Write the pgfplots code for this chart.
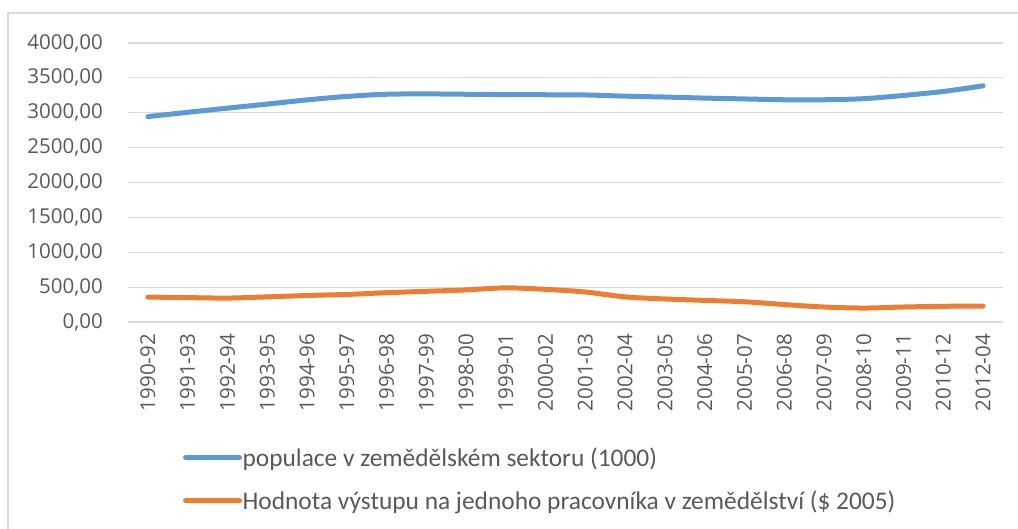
\documentclass[border=0pt]{standalone}
\usepackage{pgfplots}
\pgfplotsset{compat=1.18}
\usepackage{fontspec}
\setmainfont{Carlito}
\newfontfamily\tickfont{Open Sans}
\definecolor{blueS}{HTML}{5B9BD5}
\definecolor{orangeS}{HTML}{ED7D31}
\definecolor{gridc}{HTML}{D9D9D9}
\definecolor{textgray}{HTML}{595959}
\begin{document}
\begin{tikzpicture}[x=1pt,y=1pt]
\useasboundingbox (0,0) rectangle (1018,529);
\draw[gridc, line width=1.2pt] (8,0) -- (8,516) -- (1018,516);
\begin{axis}[
  at={(128pt,207pt)}, anchor=south west,
  scale only axis, width=875pt, height=279pt,
  xmin=-0.5, xmax=21.5, ymin=0, ymax=4000,
  ytick={0,500,...,4000},
  xtick={0,...,21},
  xticklabels={1990-92,1991-93,1992-94,1993-95,1994-96,1995-97,1996-98,1997-99,1998-00,1999-01,2000-02,2001-03,2002-04,2003-05,2004-06,2005-07,2006-08,2007-09,2008-10,2009-11,2010-12,2012-04},
  yticklabel={\pgfmathprintnumber[fixed,fixed zerofill,precision=2,use comma,1000 sep={}]{\tick}},
  /pgf/number format/assume math mode=true,
  ymajorgrids, grid style={gridc, line width=1.2pt},
  axis line style={draw=none},
  axis x line*=bottom, axis y line*=left,
  x axis line style={draw=gridc, line width=1.2pt},
  major tick length=0pt,
  tick label style={font=\tickfont\fontsize{20.5}{24}\selectfont, text=textgray, inner sep=0pt},
  xticklabel style={rotate=90, anchor=east},
  yticklabel style={anchor=east},
  xticklabel shift=12pt, yticklabel shift=25pt,
  legend style={at={(0.0593,-0.44)}, anchor=north west, draw=none, fill=none,
    font=\fontsize{25.4}{29}\selectfont, text=textgray, row sep=22pt,
    nodes={inner sep=0.5pt}},
  legend cell align=left,
  legend image code/.code={\draw[line width=5pt,line cap=round] (0pt,0pt) -- (54pt,0pt);},
]
\addplot[blueS, line width=5pt, smooth, line cap=round] coordinates {
(0,2945) (1,3006) (2,3066) (3,3124) (4,3184) (5,3234) (6,3265) (7,3270) (8,3265)
(9,3260) (10,3258) (11,3255) (12,3238) (13,3225) (14,3210) (15,3198) (16,3186)
(17,3186) (18,3202) (19,3248) (20,3305) (21,3386)};
\addlegendentry{populace v zemědělském sektoru (1000)}
\addplot[orangeS, line width=5pt, smooth, line cap=round] coordinates {
(0,357) (1,350) (2,343) (3,360) (4,380) (5,395) (6,420) (7,440) (8,460) (9,490)
(10,468) (11,430) (12,360) (13,330) (14,310) (15,290) (16,250) (17,215) (18,200)
(19,215) (20,225) (21,228)};
\addlegendentry{Hodnota výstupu na jednoho pracovníka v zemědělství (\$ 2005)}
\end{axis}
\end{tikzpicture}
\end{document}
